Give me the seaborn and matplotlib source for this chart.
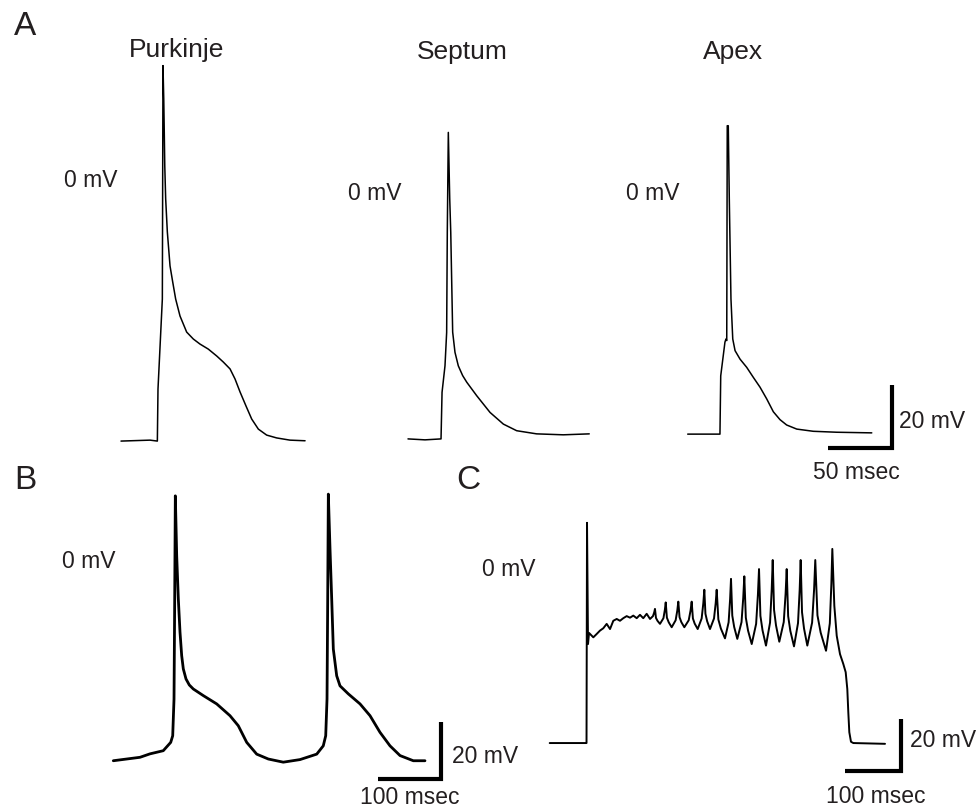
import matplotlib
matplotlib.use("Agg")
import matplotlib.pyplot as plt
import pandas as pd
import seaborn as sns

sns.set_theme(style="white")
plt.rcParams['font.family'] = ['Liberation Sans', 'DejaVu Sans']

# ---------------- data (time in ms from trace start, membrane potential in mV) -------------
purkinje_t = [0.0, 22.7, 28.4, 28.9, 32.3, 32.8, 33.4, 33.8, 34.2, 34.9, 36.2, 38.3, 40.4, 42.7,
              46.1, 51.3, 56.5, 61.7, 68.2, 74.8, 79.9, 85.2, 89.1, 93.0, 97.7, 102.1, 107.3,
              113.8, 121.6, 132.0, 143.8]
purkinje_v = [-83.2, -82.9, -83.2, -66.7, -38.1, 36.0, 25.4, 14.9, 4.1, -6.3, -16.8, -27.6, -32.7, -38.1,
              -43.5, -48.6, -50.8, -52.4, -54.0, -56.2, -58.1, -60.3, -63.5, -67.6, -72.1, -76.2, -79.4,
              -81.3, -82.2, -82.9, -83.1]

septum_t = [0.0, 13.3, 25.8, 26.6, 28.9, 30.2, 30.7, 31.5, 32.6, 33.4, 34.9, 36.7, 39.3, 42.7,
            45.9, 53.7, 64.1, 74.5, 84.9, 100.5, 121.3, 141.6]
septum_v = [-78.7, -79.0, -78.7, -63.9, -55.5, -44.9, -13.0, 18.6, -2.5, -13.1, -44.8, -51.2, -55.5, -58.6,
            -60.7, -65.0, -70.3, -74.0, -76.1, -77.1, -77.4, -77.1]

apex_t = [0.0, 25.2, 25.8, 29.1, 29.9, 30.5, 30.9, 31.7, 32.5, 33.8, 35.2, 37.0, 40.9, 46.1, 51.3,
          56.5, 61.7, 66.9, 72.1, 77.3, 85.2, 98.1, 116.4, 143.8]
apex_v = [-77.5, -77.5, -59.0, -48.3, -47.3, -47.8, 20.4, 20.4, -2.9, -34.6, -47.3, -51.0, -53.7, -56.3, -59.5,
          -62.6, -66.3, -70.4, -72.9, -74.6, -75.9, -76.6, -76.9, -77.1]

paced_t = [0.0, 42.8, 58.8, 80.1, 92.0, 95.2, 97.3, 98.4, 99.4, 101.6, 104.2, 106.9, 109.6, 112.2,
           116.5, 121.8, 128.2, 144.2, 165.7, 187.0, 200.3, 213.8, 229.8, 248.4, 272.4, 299.2,
           326.0, 336.5, 340.4, 342.5, 343.6, 344.6, 347.3, 350.0, 352.6, 358.0, 363.3, 376.6,
           395.4, 411.4, 427.4, 443.4, 459.5, 480.8, 499.5]
paced_v = [-69.7, -68.5, -67.3, -66.2, -63.3, -61.0, -48.2, -13.3, 22.6, 1.7, -13.3, -24.9, -33.1, -37.7,
           -41.2, -43.3, -44.7, -47.0, -49.9, -54.0, -57.5, -63.3, -67.4, -69.1, -70.2, -69.3,
           -67.4, -64.5, -61.0, -48.2, -13.3, 23.2, 4.1, -13.3, -30.8, -40.1, -43.6, -46.4,
           -49.9, -54.0, -59.8, -64.5, -67.9, -69.7, -69.7]

burst_t = [0.0, 66.1, 67.0, 68.8, 70.6, 78.3, 84.4, 90.3, 96.2, 102.3, 108.3, 114.2, 120.3, 126.2,
           132.1, 138.2, 144.2, 150.1, 156.2, 162.1, 168.0, 174.1, 180.1,
           185.4, 187.7, 189.0, 190.8, 193.5, 198.0,
           204.2, 206.8, 208.3, 210.4, 213.7, 219.0,
           226.1, 229.1, 230.9, 233.1, 236.3, 241.7,
           249.6, 252.9, 254.9, 257.1, 260.3, 265.7,
           272.8, 275.8, 277.6, 279.6, 282.7, 287.8,
           295.0, 298.0, 299.8, 302.8, 307.3, 314.7,
           321.2, 323.9, 325.5, 327.8, 331.2, 336.8,
           344.4, 347.5, 349.4, 352.1, 356.1, 362.7,
           370.6, 373.8, 375.8, 378.3, 382.1, 388.3,
           395.6, 398.6, 400.4, 402.8, 406.3, 412.2,
           420.2, 423.5, 425.5, 428.1, 432.0, 438.6,
           445.8, 448.8, 450.6, 453.0, 456.6, 462.5,
           471.1, 474.7, 476.8, 480.7, 486.5, 496.1,
           502.9, 505.7, 507.4, 511.0, 515.3, 521.2, 527.1, 531.4, 534.3, 536.1, 537.9,
           540.9, 545.1, 602.0]
burst_v = [-67.6, -67.6, 17.6, -29.3, -25.0, -26.7, -25.4, -24.1, -23.2, -21.5, -23.5, -20.3, -19.6, -20.3,
           -19.3, -18.5, -19.1, -18.3, -19.3, -18.0, -19.3, -17.6, -19.6,
           -18.5, -17.0, -15.7, -19.2, -20.3, -21.5,
           -19.3, -16.0, -13.2, -19.1, -20.9, -22.8,
           -20.1, -16.3, -12.9, -18.9, -20.8, -22.8,
           -20.1, -16.3, -12.9, -19.4, -21.4, -23.5,
           -19.4, -13.5, -8.3, -17.6, -20.5, -23.5,
           -19.4, -13.5, -8.3, -19.8, -23.3, -27.1,
           -20.9, -11.9, -4.1, -18.3, -22.7, -27.3,
           -20.8, -11.3, -3.1, -19.1, -24.1, -29.3,
           -21.5, -10.2, -0.3, -18.4, -24.0, -29.9,
           -21.0, -8.1, 3.2, -16.1, -22.1, -28.4,
           -20.8, -9.9, -0.3, -18.5, -24.2, -30.2,
           -21.2, -8.2, 3.2, -17.0, -23.3, -29.9,
           -21.0, -8.1, 3.2, -18.2, -24.9, -31.9,
           -21.3, -5.9, 7.5, -14.5, -26.1, -33.2, -37.0, -40.2, -46.7, -55.7, -63.4,
           -67.1, -67.6, -67.9]

# scale bars
scale_a_mv, scale_a_ms = 20, 50
scale_b_mv, scale_b_ms = 20, 100
scale_c_mv, scale_c_ms = 20, 100

# ---------------- figure ----------------
W, H = 980, 812
fig = plt.figure(figsize=(W / 100, H / 100), dpi=100)
fig.patch.set_facecolor('white')
INK = '#231f20'


def trace_axes(x0, zero_y, px_per_ms, px_per_mv):
    ax = fig.add_axes([0, 0, 1, 1])
    ax.set_xlim(-x0 / px_per_ms, (W - x0) / px_per_ms)
    ax.set_ylim((zero_y - H) / px_per_mv, zero_y / px_per_mv)
    ax.axis('off')
    ax.patch.set_alpha(0)
    return ax


def draw(ax, t, v, lw):
    df = pd.DataFrame({'t': t, 'v': v})
    sns.lineplot(data=df, x='t', y='v', ax=ax, color='black', linewidth=lw,
                 sort=False, estimator=None, solid_joinstyle='round')
    ax.axis('off')


def scalebar(ax, x_end, y_bot, ms, mv):
    ax.plot([x_end - ms, x_end, x_end], [y_bot, y_bot, y_bot + mv], color='black',
            lw=3.0, solid_joinstyle='miter', solid_capstyle='butt')


def label(x, y, s, size, ha='left'):
    fig.text(x / W, 1 - y / H, s, fontsize=size, ha=ha, va='baseline', color=INK)


# Panel A
ax_p = trace_axes(121, 180, 1.28, 3.15)
draw(ax_p, purkinje_t, purkinje_v, 1.1)
ax_s = trace_axes(408, 192, 1.28, 3.15)
draw(ax_s, septum_t, septum_v, 1.1)
ax_a = trace_axes(687.7, 191, 1.28, 3.15)
draw(ax_a, apex_t, apex_v, 1.1)
scalebar(ax_a, 159.4, -81.9, scale_a_ms, scale_a_mv)

# Panel B
ax_b = trace_axes(113.3, 561.7, 0.624, 2.87)
draw(ax_b, paced_t, paced_v, 2.0)
scalebar(ax_b, 524.7, -76.1, scale_b_ms, scale_b_mv)

# Panel C
ax_c = trace_axes(549.7, 569.3, 0.557, 2.585)
draw(ax_c, burst_t, burst_v, 1.4)
scalebar(ax_c, 630.0, -78.3, scale_c_ms, scale_c_mv)

# texts
LET, TIT, LAB = 24, 19, 16.5
label(14, 35, 'A', LET)
label(14, 489, 'B', LET)
label(456, 489, 'C', LET)
label(177, 57.5, 'Purkinje', TIT, 'center')
label(462, 58.5, 'Septum', TIT, 'center')
label(733, 58.5, 'Apex', TIT, 'center')
label(64, 187, '0 mV', LAB)
label(348, 200, '0 mV', LAB)
label(626, 199.5, '0 mV', LAB)
label(899, 428.5, '20 mV', LAB)
label(856, 479, '50 msec', LAB, 'center')
label(62, 568.5, '0 mV', LAB)
label(452, 763.5, '20 mV', LAB)
label(410, 804, '100 msec', LAB, 'center')
label(482, 576, '0 mV', LAB)
label(910, 747.5, '20 mV', LAB)
label(876, 803.5, '100 msec', LAB, 'center')

fig.savefig('out.png', dpi=100, facecolor='white')
